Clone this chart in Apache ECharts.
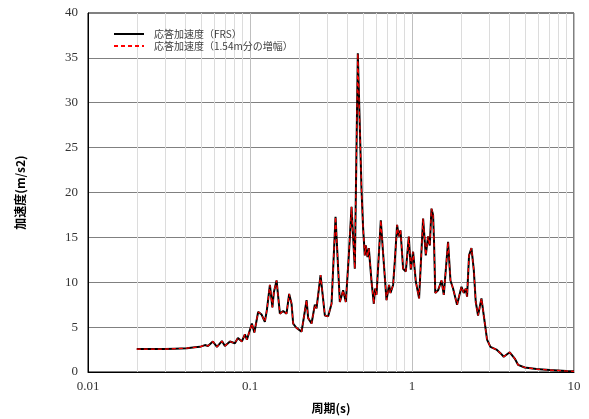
<!DOCTYPE html>
<html>
<head>
<meta charset="utf-8">
<script src="https://cdn.jsdelivr.net/npm/echarts@6/dist/echarts.min.js"></script>
<style>
  html, body { margin: 0; padding: 0; background: #fff; }
  #chart { width: 589px; height: 419px; }
</style>
</head>
<body>
<div id="chart"></div>
<script>
// Floor response spectrum: period (s) vs. response acceleration (m/s2)
const periods = [
  0.0200, 0.0241, 0.0299, 0.0344, 0.0408, 0.0457, 0.0491, 0.0527, 0.0550, 0.0590,
  0.0625, 0.0671, 0.0700, 0.0752, 0.0807, 0.0842, 0.0891, 0.0930, 0.0957, 0.1027,
  0.1064, 0.1123, 0.1179, 0.1235, 0.1271, 0.1327, 0.1375, 0.1404, 0.1459, 0.1529,
  0.1602, 0.1681, 0.1745, 0.1805, 0.1847, 0.1938, 0.2082, 0.2235, 0.2286, 0.2399,
  0.2514, 0.2575, 0.2726, 0.2898, 0.3037, 0.3187, 0.3373, 0.3586, 0.3757, 0.3904,
  0.4074, 0.4233, 0.4436, 0.4630, 0.4880, 0.4992, 0.5114, 0.5187, 0.5314, 0.5413,
  0.5625, 0.5812, 0.5920, 0.6039, 0.6419, 0.6633, 0.6960, 0.7222, 0.7367, 0.7645,
  0.7831, 0.8091, 0.8289, 0.8492, 0.8813, 0.9158, 0.9556, 0.9831, 1.0158, 1.0554,
  1.1060, 1.1708, 1.2165, 1.2569, 1.2876, 1.3191, 1.3494, 1.3668, 1.3922, 1.4487,
  1.5204, 1.5709, 1.6697, 1.7276, 1.7926, 1.8974, 2.0200, 2.0871, 2.1471, 2.1872,
  2.2503, 2.3283, 2.4057, 2.4750, 2.5572, 2.6835, 2.7727, 2.9057, 3.0496, 3.1374,
  3.3207, 3.5152, 3.6837, 4.0118, 4.3076, 4.5143, 4.9650, 5.8624, 7.0808, 8.9763,
  10.000
];

// 応答加速度 (FRS)
const accFRS = [
  2.55, 2.55, 2.55, 2.60, 2.65, 2.75, 2.80, 3.00, 2.90, 3.40,
  2.80, 3.45, 2.90, 3.40, 3.20, 3.80, 3.40, 4.20, 3.60, 5.40,
  4.40, 6.70, 6.40, 5.60, 6.90, 9.70, 7.20, 8.90, 10.20, 6.50,
  6.80, 6.50, 8.70, 7.60, 5.40, 4.90, 4.50, 8.00, 6.00, 5.40,
  7.50, 7.10, 10.80, 6.30, 6.20, 7.60, 17.30, 7.80, 9.10, 7.80,
  13.00, 18.40, 11.50, 35.50, 20.30, 16.00, 13.00, 14.10, 12.80, 13.80,
  10.10, 7.60, 9.30, 8.60, 16.90, 13.20, 8.00, 9.70, 8.80, 9.70,
  12.30, 16.40, 15.10, 15.80, 11.50, 11.20, 15.10, 11.40, 13.40, 10.10,
  8.20, 17.10, 13.00, 15.10, 14.10, 18.20, 17.50, 14.70, 8.80, 9.10,
  10.20, 8.60, 14.50, 10.20, 9.30, 7.50, 9.50, 8.80, 9.30, 8.40,
  13.00, 13.80, 11.40, 7.80, 6.30, 8.20, 6.30, 3.60, 2.80, 3.00,
  2.50, 2.10, 1.70, 2.20, 1.50, 0.80, 0.50, 0.33, 0.22, 0.11,
  0.08
];

// 応答加速度（1.54m分の増幅）
const accAmplified = [
  2.55, 2.55, 2.55, 2.60, 2.65, 2.75, 2.80, 3.00, 2.90, 3.40,
  2.80, 3.45, 2.90, 3.40, 3.20, 3.80, 3.40, 4.20, 3.60, 5.40,
  4.40, 6.70, 6.40, 5.60, 6.90, 9.70, 7.20, 8.90, 10.20, 6.50,
  6.80, 6.50, 8.70, 7.60, 5.40, 4.90, 4.50, 8.00, 6.00, 5.40,
  7.50, 7.10, 10.80, 6.30, 6.20, 7.60, 17.30, 7.80, 9.10, 7.80,
  13.00, 18.40, 11.50, 35.50, 20.30, 16.00, 13.00, 14.10, 12.80, 13.80,
  10.10, 7.60, 9.30, 8.60, 16.90, 13.20, 8.00, 9.70, 8.80, 9.70,
  12.30, 16.40, 15.10, 15.80, 11.50, 11.20, 15.10, 11.40, 13.40, 10.10,
  8.20, 17.10, 13.00, 15.10, 14.10, 18.20, 17.50, 14.70, 8.80, 9.10,
  10.20, 8.60, 14.50, 10.20, 9.30, 7.50, 9.50, 8.80, 9.30, 8.40,
  13.00, 13.80, 11.40, 7.80, 6.30, 8.20, 6.30, 3.60, 2.80, 3.00,
  2.50, 2.10, 1.70, 2.20, 1.50, 0.80, 0.50, 0.33, 0.22, 0.11,
  0.08
];

const seriesNames = ['応答加速度（FRS）', '応答加速度（1.54m分の増幅）'];
const xAxisTitle = '周期(s)';
const yAxisTitle = '加速度(m/s2)';

const pairs = (xs, ys) => xs.map((x, i) => [x, ys[i]]);

const labelFont = "'Liberation Serif', 'Noto Sans CJK JP', serif";
const cjkFont = "'Noto Sans CJK JP', sans-serif";

const chart = echarts.init(document.getElementById('chart'), null, { renderer: 'canvas' });
chart.setOption({
  animation: false,
  backgroundColor: '#ffffff',
  grid: {
    left: 88, right: 15, top: 13, bottom: 47,
    show: true, borderColor: '#000', borderWidth: 1
  },
  legend: {
    orient: 'vertical',
    left: 108, top: 24,
    itemWidth: 30, itemHeight: 2, itemGap: 2,
    itemStyle: { opacity: 0 },
    textStyle: { fontFamily: cjkFont, fontSize: 10, color: '#404040', padding: [0, 0, 0, 5] },
    data: seriesNames
  },
  xAxis: {
    type: 'log',
    logBase: 10,
    min: 0.01, max: 10,
    name: xAxisTitle,
    nameLocation: 'middle',
    nameGap: 30,
    nameTextStyle: { fontFamily: cjkFont, fontSize: 12, fontWeight: 'bold', color: '#000' },
    axisLine: { show: true, onZero: false, lineStyle: { color: '#000', width: 1 } },
    axisTick: { show: false },
    axisLabel: { fontFamily: labelFont, fontSize: 13, color: '#333', margin: 8 },
    splitLine: { show: true, lineStyle: { color: '#bfbfbf', width: 1 } },
    minorTick: { show: false, splitNumber: 9 },
    minorSplitLine: { show: true, lineStyle: { color: '#dcdcdc', width: 1 } }
  },
  yAxis: {
    type: 'value',
    min: 0, max: 40, interval: 5,
    name: yAxisTitle,
    nameLocation: 'middle',
    nameRotate: 90,
    nameGap: 62,
    nameTextStyle: { fontFamily: cjkFont, fontSize: 12, fontWeight: 'bold', color: '#000' },
    axisLine: { show: true, lineStyle: { color: '#000', width: 1 } },
    axisTick: { show: false },
    axisLabel: { fontFamily: labelFont, fontSize: 13, color: '#333', margin: 10 },
    splitLine: { show: true, lineStyle: { color: '#808080', width: 1 } }
  },
  series: [
    {
      name: seriesNames[0],
      type: 'line',
      data: pairs(periods, accFRS),
      symbol: 'none',
      lineStyle: { color: '#000', width: 2 },
      itemStyle: { color: '#000' },
      z: 2
    },
    {
      name: seriesNames[1],
      type: 'line',
      data: pairs(periods, accAmplified),
      symbol: 'none',
      lineStyle: { color: '#ff0000', width: 1.2, type: [4, 3] },
      itemStyle: { color: '#ff0000' },
      z: 3
    }
  ]
});
</script>
</body>
</html>
